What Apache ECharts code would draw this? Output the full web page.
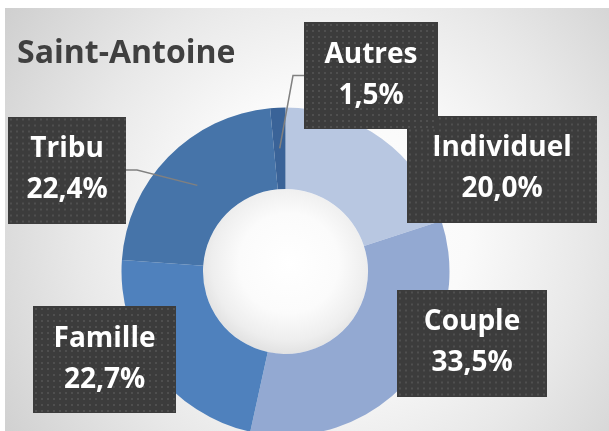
<!DOCTYPE html>
<html>
<head>
<meta charset="utf-8">
<script src="https://cdn.jsdelivr.net/npm/echarts@6/dist/echarts.min.js"></script>
<style>
  html, body { margin: 0; padding: 0; background: #ffffff; }
  #bg { position: absolute; left: 5px; top: 8px; width: 604px; height: 423px;
        background: radial-gradient(circle farthest-corner at 54% 52%, #ffffff 0%, #fafafa 35%, #e8e8e8 65%, #cfcfcf 100%); }
  #chart { position: absolute; left: 0; top: 0; width: 609px; height: 431px; }
</style>
</head>
<body>
<div id="bg"></div>
<div id="chart"></div>
<script>
// ---- data ----
const chartTitle = 'Saint-Antoine';
const categories = ['Individuel', 'Couple', 'Famille', 'Tribu', 'Autres'];
const shares = [20.0, 33.5, 22.7, 22.4, 1.5];

// ---- styling / layout ----
const sliceColors = ['#B8C7E1', '#93A9D2', '#4F81BD', '#4674A9', '#3A6398'];
const CENTER = [285.5, 271.5];
const R_IN = 82.5, R_OUT = 164;
const R_LEAD = (R_IN + R_OUT) / 2;
// label box centre, width, leader side (+1 line ends at right edge, -1 at left edge, 0 none)
const labelBoxes = [
  { cx: 502,   cy: 169,   w: 190, lead: 0 },
  { cx: 472,   cy: 343,   w: 150, lead: 0 },
  { cx: 104.5, cy: 359.5, w: 143, lead: 0 },
  { cx: 67,    cy: 170,   w: 118, lead: 1 },
  { cx: 371,   cy: 75.5,  w: 134, lead: -1 }
];
const LINE_H = 41, PAD_T = 16, PAD_B = 9;
const BOX_H = LINE_H * 2 + PAD_T + PAD_B;

function tile(w, h) {
  const c = document.createElement('canvas');
  c.width = w; c.height = h;
  const g = c.getContext('2d');
  g.fillStyle = '#3c3c3c';
  g.fillRect(0, 0, w, h);
  g.fillStyle = '#4f4f4f';
  for (let x = 2; x < w; x += 6) {
    for (let y = 2; y < h; y += 6) {
      g.fillRect(x, y, 2, 2);
    }
  }
  return c;
}

const fmt = v => v.toFixed(1).replace('.', ',') + '%';
const labelText = p => p.name + '\n' + fmt(p.value);

const ringData = categories.map((name, i) => ({
  name: name,
  value: shares[i],
  itemStyle: { color: sliceColors[i] },
  label: {
    width: labelBoxes[i].w,
    backgroundColor: { image: tile(labelBoxes[i].w, BOX_H) }
  }
}));

const leaderData = categories.map((name, i) => ({
  name: name,
  value: shares[i],
  labelLine: { show: labelBoxes[i].lead !== 0 },
  label: { show: labelBoxes[i].lead !== 0 }
}));

const baseLabel = {
  show: true,
  position: 'outside',
  formatter: labelText,
  fontFamily: 'Open Sans',
  fontWeight: 'bold',
  fontSize: 28,
  lineHeight: LINE_H,
  align: 'center',
  padding: [PAD_T, 0, PAD_B, 0]
};

function placeLabel(p) {
  const b = labelBoxes[p.dataIndex];
  const res = { x: b.cx, y: b.cy, align: 'center', verticalAlign: 'middle' };
  const lp = p.labelLinePoints;
  if (b.lead !== 0 && lp && lp.length) {
    const s = lp[0];
    const k = R_LEAD / R_OUT;
    const start = [CENTER[0] + (s[0] - CENTER[0]) * k, CENTER[1] + (s[1] - CENTER[1]) * k];
    const end = [b.cx + b.lead * b.w / 2, b.cy];
    const bend = [end[0] + b.lead * 11, b.cy];
    res.labelLinePoints = [start, bend, end];
  }
  return res;
}

const chart = echarts.init(document.getElementById('chart'), null, { renderer: 'canvas' });
chart.setOption({
  animation: false,
  title: {
    text: chartTitle,
    left: 17,
    top: 38,
    padding: 0,
    textStyle: {
      fontFamily: 'Open Sans',
      fontWeight: 'bold',
      fontSize: 32,
      lineHeight: 32,
      color: '#404040'
    }
  },
  series: [
    {
      // donut ring with label boxes
      type: 'pie',
      center: CENTER,
      radius: [R_IN, R_OUT],
      startAngle: 90,
      clockwise: true,
      avoidLabelOverlap: false,
      silent: true,
      itemStyle: { borderWidth: 0 },
      label: Object.assign({}, baseLabel, {
        color: '#ffffff',
        shadowColor: 'rgba(0,0,0,0.45)',
        shadowBlur: 6,
        shadowOffsetX: 3,
        shadowOffsetY: 3
      }),
      labelLine: { show: false },
      labelLayout: placeLabel,
      data: ringData,
      z: 2
    },
    {
      // leader lines drawn above the ring (same values, invisible sectors and text)
      type: 'pie',
      center: CENTER,
      radius: [R_IN, R_OUT],
      startAngle: 90,
      clockwise: true,
      avoidLabelOverlap: false,
      silent: true,
      itemStyle: { color: 'rgba(0,0,0,0)', borderWidth: 0 },
      label: Object.assign({}, baseLabel, { color: 'rgba(0,0,0,0)' }),
      labelLine: {
        show: false,
        smooth: false,
        lineStyle: { color: '#808080', width: 1.5, opacity: 1 }
      },
      labelLayout: placeLabel,
      data: leaderData,
      z: 3
    },
    {
      // centre hole
      type: 'pie',
      center: CENTER,
      radius: [0, R_IN],
      silent: true,
      label: { show: false },
      labelLine: { show: false },
      itemStyle: {
        color: new echarts.graphic.RadialGradient(0.52, 0.45, 0.55, [
          { offset: 0, color: '#ffffff' },
          { offset: 0.55, color: '#fbfbfb' },
          { offset: 0.85, color: '#eeeeee' },
          { offset: 1, color: '#e2e2e2' }
        ])
      },
      data: [{ name: 'centre', value: 1 }],
      z: 1
    }
  ]
});
</script>
</body>
</html>
